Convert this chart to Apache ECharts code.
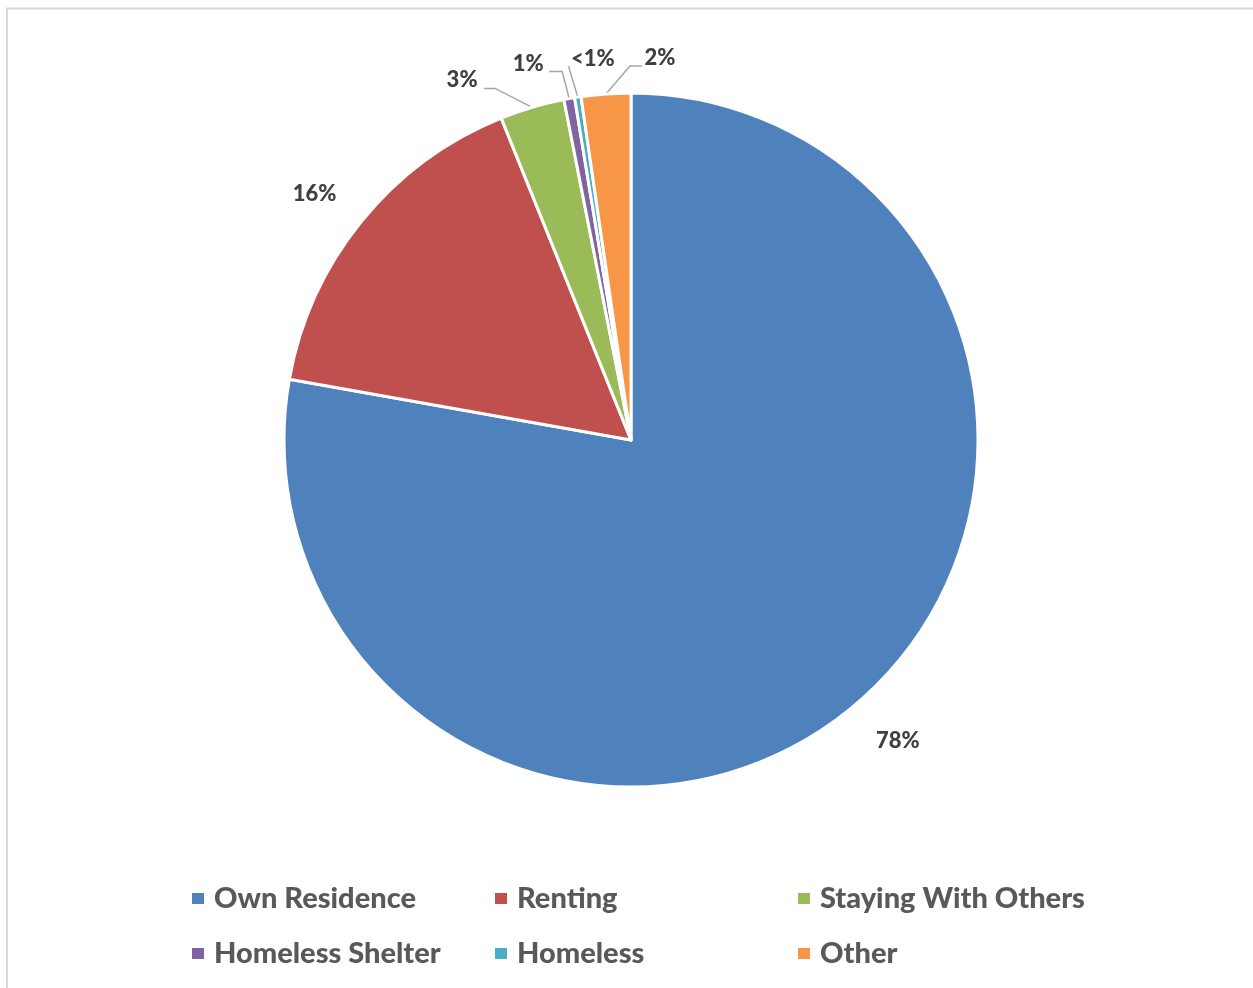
<!DOCTYPE html>
<html>
<head>
<meta charset="utf-8">
<title>Living Situation</title>
<script src="https://cdn.jsdelivr.net/npm/echarts@6/dist/echarts.min.js"></script>
<style>
  html, body { margin: 0; padding: 0; background: #ffffff; }
  #chart { width: 1253px; height: 988px; }
</style>
</head>
<body>
<div id="chart"></div>
<script>
// Living situation categories and their shares (percent)
const categories = ['Own Residence', 'Renting', 'Staying With Others', 'Homeless Shelter', 'Homeless', 'Other'];
const shares = [77.8, 16.1, 3.0, 0.5, 0.3, 2.3];
const sliceColors = ['#4F81BD', '#C0504D', '#9BBB59', '#8064A2', '#4BACC6', '#F79646'];

const pieCenter = [631, 440];
const pieRadius = 347;

// Label offsets from each slice's outer-edge midpoint; small slices get a leader line
const labelPlacement = [
  { dx: 44, dy: 35 },
  { dx: -47, dy: -27 },
  { dx: -70, dy: -27, line: [[-37, -19], [-48, -19]] },
  { dx: -41, dy: -35, line: [[-7, -27], [-20, -27]] },
  { dx: 15, dy: -38, line: [[-9, -30], [-8, -30]] },
  { dx: 54, dy: -36, line: [[24, -28], [36, -28]] }
];

const total = shares.reduce((a, b) => a + b, 0);
// outer-edge midpoint of slice i (start at 12 o'clock, clockwise)
function edgeMid(i) {
  let before = 0;
  for (let k = 0; k < i; k++) before += shares[k];
  const frac = (before + shares[i] / 2) / total;
  const ang = frac * Math.PI * 2;
  return [pieCenter[0] + Math.sin(ang) * pieRadius, pieCenter[1] - Math.cos(ang) * pieRadius];
}

const chart = echarts.init(document.getElementById('chart'));

chart.setOption({
  backgroundColor: '#ffffff',
  animation: false,
  color: sliceColors,
  graphic: [
    { type: 'line', shape: { x1: 7, y1: 8, x2: 7, y2: 988 }, style: { stroke: '#d9d9d9', lineWidth: 2 } },
    { type: 'line', shape: { x1: 6, y1: 8.5, x2: 1253, y2: 8.5 }, style: { stroke: '#d9d9d9', lineWidth: 2 } }
  ],
  legend: {
    left: 190,
    top: 881,
    width: 920,
    padding: 0,
    orient: 'horizontal',
    itemWidth: 14,
    itemHeight: 13,
    itemGap: 20,
    icon: 'rect',
    selectedMode: false,
    data: categories,
    textStyle: {
      fontFamily: 'Lato',
      fontWeight: 900,
      fontSize: 29,
      color: '#595959',
      width: 259,
      lineHeight: 35,
      padding: [0, 0, 0, 4]
    }
  },
  series: [{
    type: 'pie',
    center: pieCenter,
    radius: pieRadius,
    startAngle: 90,
    clockwise: true,
    avoidLabelOverlap: false,
    itemStyle: { borderColor: '#ffffff', borderWidth: 3 },
    label: {
      show: true,
      position: 'outside',
      fontFamily: 'Lato',
      fontWeight: 900,
      fontSize: 22,
      color: '#404040',
      formatter: function (p) {
        const r = Math.round(p.value / total * 100);
        return r < 1 ? '<1%' : r + '%';
      }
    },
    labelLine: {
      show: true,
      length: 20,
      length2: 10,
      lineStyle: { color: '#a6a6a6', width: 1.5 }
    },
    labelLayout: function (params) {
      const i = params.dataIndex;
      const pl = labelPlacement[i];
      const a = edgeMid(i);
      const out = {
        x: a[0] + pl.dx,
        y: a[1] + pl.dy,
        align: 'center',
        verticalAlign: 'middle'
      };
      if (pl.line) {
        out.labelLinePoints = [a, [a[0] + pl.line[0][0], a[1] + pl.line[0][1]], [a[0] + pl.line[1][0], a[1] + pl.line[1][1]]];
      } else {
        out.labelLinePoints = [a, a, a];
      }
      return out;
    },
    data: categories.map((name, i) => ({ name: name, value: shares[i] }))
  }]
});
</script>
</body>
</html>
